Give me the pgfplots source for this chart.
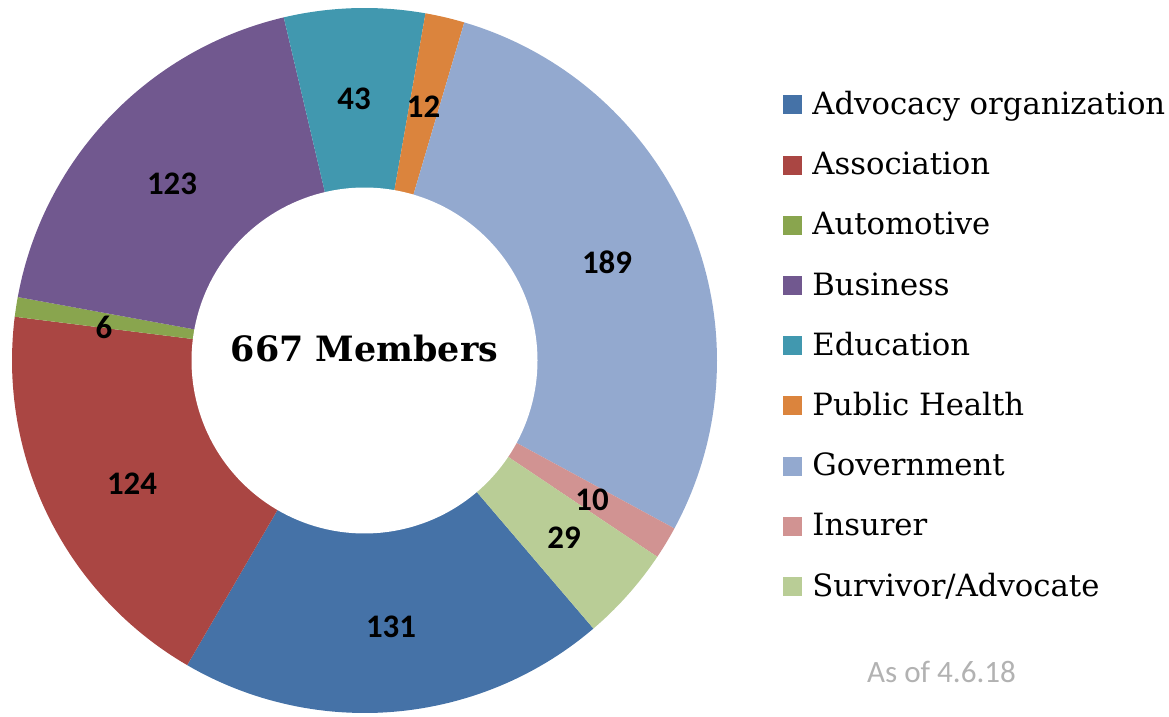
\documentclass[border=0pt]{standalone}
\usepackage{fontspec}
\setmainfont{DejaVu Serif}
\newfontfamily\carlito{Carlito}
\usepackage{pgfplots}
\pgfplotsset{compat=1.18}
\usepackage{pgfplotstable}
\definecolor{cAdv}{HTML}{4572A7}
\definecolor{cAss}{HTML}{AA4643}
\definecolor{cAut}{HTML}{89A54E}
\definecolor{cBus}{HTML}{71588F}
\definecolor{cEdu}{HTML}{4198AF}
\definecolor{cPub}{HTML}{DB843D}
\definecolor{cGov}{HTML}{93A9CF}
\definecolor{cIns}{HTML}{D19392}
\definecolor{cSur}{HTML}{B9CD96}
% members per category and label positions (counts: 131,124,6,123,43,12,189,10,29; total 667)
\pgfplotstableread{
label x y
131 391 89
124 132 232
6 104 389
123 172 532
43 354 617
12 423.5 609
189 607 454
10 592 216
29 564 178
}\labeltab
\begin{document}
\begin{tikzpicture}
\begin{axis}[
  x=0.5bp, y=0.5bp,
  xmin=0, xmax=1169, ymin=0, ymax=716,
  hide axis, clip=false,
  legend style={at={(0.6698,0.8687)}, anchor=north west, draw=none, fill=none,
    inner sep=0pt, row sep=17.1bp, column sep=5bp,
    font=\fontsize{15.4}{18}\selectfont,
    cells={anchor=west},
    nodes={inner sep=0pt, text height=10bp, text depth=3bp}},
  legend image code/.code={\fill[#1] (0bp,-3.5bp) rectangle (9.5bp,6bp);},
]
% slices: angles from cumulative counts, start -49.5 deg, clockwise, 360/667 deg per member
\addplot[fill=cAdv, draw=none, domain=-120.205:-49.5, samples=60] ({364.5+352.5*cos(x)},{355.5+352.5*sin(x)}) -- (axis cs:364.5,355.5) -- cycle;
\addlegendentry{Advocacy organization}
\addplot[fill=cAss, draw=none, domain=-187.131:-120.205, samples=60] ({364.5+352.5*cos(x)},{355.5+352.5*sin(x)}) -- (axis cs:364.5,355.5) -- cycle;
\addlegendentry{Association}
\addplot[fill=cAut, draw=none, domain=-190.369:-187.131, samples=10] ({364.5+352.5*cos(x)},{355.5+352.5*sin(x)}) -- (axis cs:364.5,355.5) -- cycle;
\addlegendentry{Automotive}
\addplot[fill=cBus, draw=none, domain=-256.756:-190.369, samples=60] ({364.5+352.5*cos(x)},{355.5+352.5*sin(x)}) -- (axis cs:364.5,355.5) -- cycle;
\addlegendentry{Business}
\addplot[fill=cEdu, draw=none, domain=-279.965:-256.756, samples=30] ({364.5+352.5*cos(x)},{355.5+352.5*sin(x)}) -- (axis cs:364.5,355.5) -- cycle;
\addlegendentry{Education}
\addplot[fill=cPub, draw=none, domain=-286.442:-279.965, samples=15] ({364.5+352.5*cos(x)},{355.5+352.5*sin(x)}) -- (axis cs:364.5,355.5) -- cycle;
\addlegendentry{Public Health}
\addplot[fill=cGov, draw=none, domain=-388.452:-286.442, samples=80] ({364.5+352.5*cos(x)},{355.5+352.5*sin(x)}) -- (axis cs:364.5,355.5) -- cycle;
\addlegendentry{Government}
\addplot[fill=cIns, draw=none, domain=-393.848:-388.452, samples=12] ({364.5+352.5*cos(x)},{355.5+352.5*sin(x)}) -- (axis cs:364.5,355.5) -- cycle;
\addlegendentry{Insurer}
\addplot[fill=cSur, draw=none, domain=-409.5:-393.848, samples=25] ({364.5+352.5*cos(x)},{355.5+352.5*sin(x)}) -- (axis cs:364.5,355.5) -- cycle;
\addlegendentry{Survivor/Advocate}
% donut hole
\addplot[forget plot, fill=white, draw=none, domain=0:360, samples=180] ({364.5+173*cos(x)},{355.5+173*sin(x)}) -- cycle;
% value labels
\addplot[forget plot, draw=none, mark=none, nodes near coords, point meta=explicit symbolic,
  nodes near coords style={anchor=center, inner sep=0pt, text=black, font=\carlito\bfseries\fontsize{16.5}{18}\selectfont}]
  table[x=x, y=y, meta=label] {\labeltab};
\addplot[forget plot, draw=none, mark=none] coordinates {(0,0) (1169,716)};
\node[font=\bfseries\fontsize{17.5}{20}\selectfont] at (axis cs:364.5,367) {667 Members};
\node[anchor=base, text=black!30, font=\carlito\fontsize{15.6}{18}\selectfont] at (axis cs:941.5,34) {As of 4.6.18};
\end{axis}
\end{tikzpicture}
\end{document}
